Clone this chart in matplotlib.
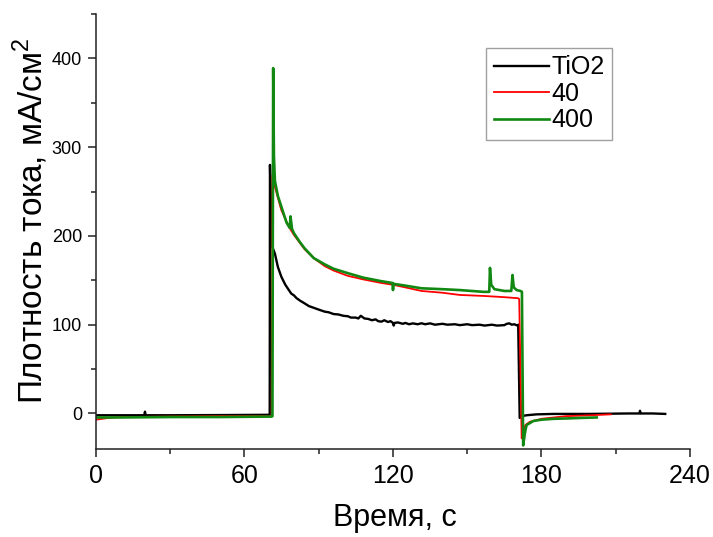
import matplotlib
matplotlib.use("Agg")
import matplotlib.pyplot as plt
from matplotlib.ticker import MultipleLocator

plt.rcParams['font.family'] = ['Liberation Sans', 'DejaVu Sans']
plt.rcParams['mathtext.fontset'] = 'custom'
plt.rcParams['mathtext.rm'] = 'Liberation Sans'

# TiO2 (black)
t_tio2 = [0, 10, 19.5, 19.8, 20.1, 30, 50, 70.2, 70.3, 70.7, 71.2, 72.3, 73.5,
          74.9, 76.5, 78.9, 80, 81, 82.5, 84.3, 86, 88, 90, 92.4, 94, 96, 98, 100,
          101.8, 103, 105, 106, 107, 108.5, 110, 111.5, 113, 114, 115.3, 116.5,
          118, 119, 120, 120.3, 120.6, 122, 124, 125, 126.5, 128, 130, 131.5, 133,
          135, 137, 140, 142, 145, 147, 150, 152, 155, 157, 160, 162, 165, 166,
          167, 168, 169, 170.3, 170.6, 171.2, 172, 174, 178, 185, 200,
          215, 219.6, 219.8, 220.1, 225, 230]
j_tio2 = [-2, -2, -2, 2, -2, -2, -1.8, -1.5, 280, 230, 188, 180, 165,
          154, 145, 135, 133, 130, 127, 124, 121, 119, 117, 114.7, 114, 112, 111.5, 110,
          109.5, 108, 108, 107, 110, 107, 106.5, 105, 106, 104, 103.4, 105,
          103, 104, 102, 99, 102, 102.5, 101, 102, 100.5, 101.5, 100.5, 101.6, 100.5,
          101.5, 100, 101, 100, 100.5, 99.5, 100.5, 99.5, 100, 99, 100, 99, 99.5, 101,
          101.5, 100, 100.5, 99, 100, -5, -3, -2, -1, -0.5, -0.5,
          0, 0, 3, 0, 0, -0.5]

# 40 (red)
t_40 = [0, 5, 10, 30, 50, 71.0, 71.3, 72.0, 72.3, 74.9, 78, 80, 84.3, 88, 92.4,
        96, 101.8, 108, 115.3, 120, 125, 131.5, 140, 147, 156.5, 165, 170.6,
        171.0, 172.0, 172.6, 173.5, 175.3, 180, 185, 190, 200, 208]
j_40 = [-7, -5, -4, -3.5, -3, -3, 268, 262, 255, 229, 210, 201, 185, 175, 166,
        161, 155, 151, 147, 145, 142, 138, 136, 133.5, 132.4, 131, 129.8,
        129, -28, -20, -13, -9.4, -6, -4.5, -3, -2, -1]

# 400 (green)
t_400 = [0, 10, 30, 50, 71.0, 71.3, 71.6, 71.9, 72.3, 73.5, 74.9, 77, 78.3, 78.6,
         79.2, 80, 82.4, 84.3, 88, 92.4, 96, 101.8, 108, 115.3, 119.8, 120.0,
         120.3, 125, 131.5, 140, 147, 156.5, 158.9, 159.2, 159.7, 161, 165, 167.8,
         168.3, 168.8, 170, 171.5, 172.1, 172.6, 173.0, 173.5, 174, 176.7, 180, 185,
         190.2, 196, 202.3]
j_400 = [-4.5, -4.5, -4, -4, -3.5, -3, 389, 290, 262, 245, 233, 215, 209, 222,
         208, 203, 193, 186, 175, 168, 163, 158, 153, 149, 147, 139,
         146, 144, 141, 140, 139, 137, 137, 164, 145, 140, 138, 138,
         156, 142, 139, 138, 137, -36, -28, -19, -13, -8.5, -7, -6,
         -5.6, -5, -4.5]

fig = plt.figure(figsize=(7.13, 5.37), dpi=100)
ax = fig.add_axes([0.1346, 0.1639, 0.8331, 0.8101])

ax.plot(t_tio2, j_tio2, color='black', lw=1.7, label='TiO2')
ax.plot(t_40, j_40, color='#ff0000', lw=1.3, label='40')
ax.plot(t_400, j_400, color='#118811', lw=1.9, label='400')

ax.set_xlim(0, 240)
ax.set_ylim(-40, 450)
ax.xaxis.set_major_locator(MultipleLocator(60))
ax.xaxis.set_minor_locator(MultipleLocator(30))
ax.yaxis.set_major_locator(MultipleLocator(100))
ax.yaxis.set_minor_locator(MultipleLocator(50))

for s in ['top', 'right']:
    ax.spines[s].set_visible(False)
for s in ['left', 'bottom']:
    ax.spines[s].set_linewidth(1.1)
    ax.spines[s].set_color('#222222')

ax.tick_params(axis='both', which='major', direction='out', length=6, width=1.1, color='#222222')
ax.tick_params(axis='both', which='minor', direction='out', length=3.5, width=1.1, color='#222222')
ax.tick_params(axis='x', labelsize=18, pad=5)
ax.tick_params(axis='y', labelsize=13, pad=4)

ax.set_xlabel('Время, с', fontsize=22)
ax.set_ylabel('Плотность тока, мА/см$^2$', fontsize=24)
ax.xaxis.set_label_coords(0.503, -0.125)
ax.yaxis.set_label_coords(-0.077, 0.526)

leg = ax.legend(loc='upper left', bbox_to_anchor=(0.657, 0.922), fontsize=18,
                frameon=True, fancybox=False, handlelength=2.2, handletextpad=0.1,
                labelspacing=0.1, borderpad=0.3, borderaxespad=0)
leg.get_frame().set_edgecolor('#888888')
leg.get_frame().set_linewidth(1.0)

fig.savefig('out.png', dpi=100)
